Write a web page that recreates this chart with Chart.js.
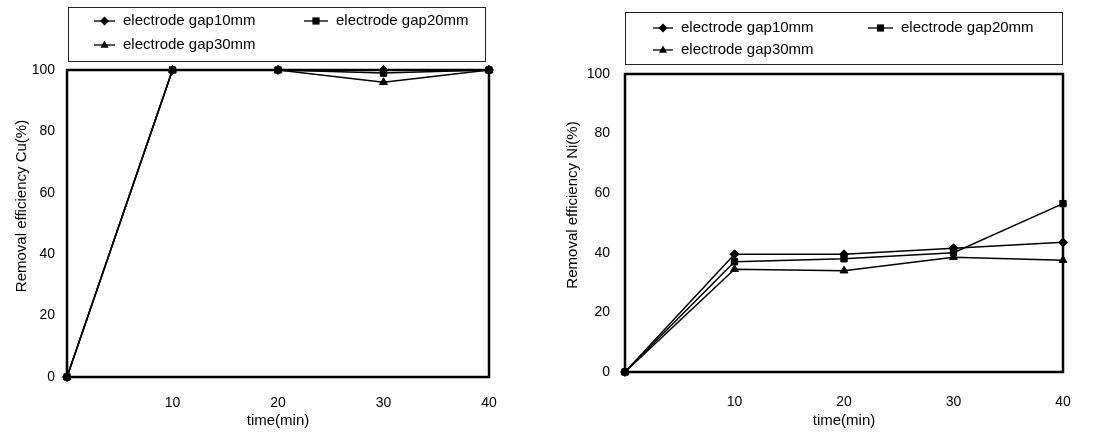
<!DOCTYPE html>
<html>
<head>
<meta charset="utf-8">
<script src="https://cdn.jsdelivr.net/npm/chart.js@4/dist/chart.umd.min.js"></script>
<style>
  html, body { margin: 0; padding: 0; background: #fff; }
  #wrap { position: relative; width: 1104px; height: 432px; }
  .pane { position: absolute; top: 0; width: 552px; height: 432px; }
</style>
</head>
<body>
<div id="wrap">
  <div class="pane" style="left:0"><canvas id="cuChart" width="552" height="432"></canvas></div>
  <div class="pane" style="left:552px"><canvas id="niChart" width="552" height="432"></canvas></div>
</div>
<script>
// data
const times = [0, 10, 20, 30, 40];
const seriesLabels = ['electrode gap10mm', 'electrode gap20mm', 'electrode gap30mm'];
const markers = ['rectRot', 'rect', 'triangle'];
const drawOrder = [0, -1, 1]; // square ends up on top, like the scan

const cuGap10 = [0, 100, 100, 100, 100];
const cuGap20 = [0, 100, 100, 99, 100];
const cuGap30 = [0, 100, 100, 96, 100];

const niGap10 = [0, 39.5, 39.5, 41.5, 43.5];
const niGap20 = [0, 37, 38, 40, 56.5];
const niGap30 = [0, 34.5, 34, 38.5, 37.5];

const xTickLabels = ['', '10', '20', '30', '40'];
const yTickStep = 20;

const FONT = 'Liberation Sans, Arial, sans-serif';

function drawMarker(ctx, style, x, y, r) {
  ctx.beginPath();
  if (style === 'rectRot') {
    ctx.moveTo(x, y - r); ctx.lineTo(x + r, y); ctx.lineTo(x, y + r); ctx.lineTo(x - r, y);
  } else if (style === 'rect') {
    ctx.rect(x - r * 0.8, y - r * 0.8, r * 1.6, r * 1.6);
  } else {
    ctx.moveTo(x, y - r); ctx.lineTo(x + r * 0.9, y + r * 0.6); ctx.lineTo(x - r * 0.9, y + r * 0.6);
  }
  ctx.closePath();
  ctx.fill();
}

// frame round the plot, boxed legend and the y title
const deco = {
  id: 'deco',
  afterDraw(chart, args, o) {
    const ctx = chart.ctx;
    const a = chart.chartArea;
    ctx.save();
    ctx.strokeStyle = '#000';
    ctx.lineWidth = 2.5;
    ctx.strokeRect(a.left, a.top, a.right - a.left, a.bottom - a.top);

    // legend box
    const b = o.box;
    ctx.lineWidth = 1;
    ctx.strokeStyle = '#222';
    ctx.strokeRect(b.x + 0.5, b.y + 0.5, b.w, b.h);
    ctx.font = '15px ' + FONT;
    ctx.fillStyle = '#000';
    ctx.textBaseline = 'middle';
    chart.data.datasets.forEach((ds, i) => {
      const it = o.items[i];
      ctx.lineWidth = 1.5;
      ctx.beginPath();
      ctx.moveTo(it.x, it.y);
      ctx.lineTo(it.x + it.len, it.y);
      ctx.stroke();
      drawMarker(ctx, ds.pointStyle, it.x + it.len / 2, it.y, 4.5);
      ctx.fillText(ds.label, it.x + it.len + 8, it.y);
    });

    // y title
    ctx.translate(o.yTitle.x, o.yTitle.y);
    ctx.rotate(-Math.PI / 2);
    ctx.textAlign = 'center';
    ctx.font = '15px ' + FONT;
    ctx.fillText(o.yTitle.text, 0, 0);
    ctx.restore();
  }
};

function makeSets(a, b, c) {
  return [a, b, c].map((vals, i) => ({
    label: seriesLabels[i],
    data: times.map((t, k) => ({ x: t, y: vals[k] })),
    order: drawOrder[i],
    borderColor: '#000',
    backgroundColor: '#000',
    borderWidth: 1.5,
    pointStyle: markers[i],
    pointRadius: 4.5,
    pointBorderWidth: 1,
    tension: 0,
    clip: false
  }));
}

function makeChart(id, sets, lay) {
  return new Chart(document.getElementById(id), {
    type: 'line',
    data: { datasets: sets },
    options: {
      responsive: false,
      animation: false,
      devicePixelRatio: 1,
      layout: { padding: { left: 0, right: lay.right, top: lay.top, bottom: 0 } },
      plugins: {
        legend: { display: false },
        tooltip: { enabled: false },
        deco: lay.deco
      },
      scales: {
        x: {
          type: 'linear',
          min: 0, max: 40,
          grid: { display: false, drawTicks: false },
          border: { display: false },
          ticks: {
            stepSize: 10,
            maxRotation: 0,
            padding: lay.xPad,
            color: '#000',
            font: { family: FONT, size: 14 },
            callback: (v) => xTickLabels[times.indexOf(v)] ?? ''
          },
          title: {
            display: true,
            text: 'time(min)',
            color: '#000',
            font: { family: FONT, size: 15 },
            padding: { top: 0, bottom: 2 }
          },
          afterFit: (s) => { s.height = lay.xH; }
        },
        y: {
          min: 0, max: 100,
          grid: { display: false, drawTicks: false },
          border: { display: false },
          ticks: {
            stepSize: yTickStep,
            padding: lay.yPad,
            color: '#000',
            font: { family: FONT, size: 14 }
          },
          afterFit: (s) => { s.width = lay.yW; }
        }
      }
    },
    plugins: [deco]
  });
}

makeChart('cuChart', makeSets(cuGap10, cuGap20, cuGap30), {
  right: 63, top: 70, xH: 55, yW: 67, xPad: 18, yPad: 12,
  deco: {
    box: { x: 68, y: 7, w: 417, h: 54 },
    items: [{ x: 94, y: 21, len: 21 }, { x: 304, y: 21, len: 24 }, { x: 94, y: 45, len: 21 }],
    yTitle: { x: 22, y: 206, text: 'Removal efficiency Cu(%)' }
  }
});

makeChart('niChart', makeSets(niGap10, niGap20, niGap30), {
  right: 41, top: 74, xH: 60, yW: 73, xPad: 22, yPad: 15,
  deco: {
    box: { x: 73, y: 12, w: 437, h: 52 },
    items: [{ x: 101, y: 28, len: 20 }, { x: 316, y: 28, len: 25 }, { x: 101, y: 50, len: 20 }],
    yTitle: { x: 21, y: 205, text: 'Removal efficiency Ni(%)' }
  }
});
</script>
</body>
</html>
